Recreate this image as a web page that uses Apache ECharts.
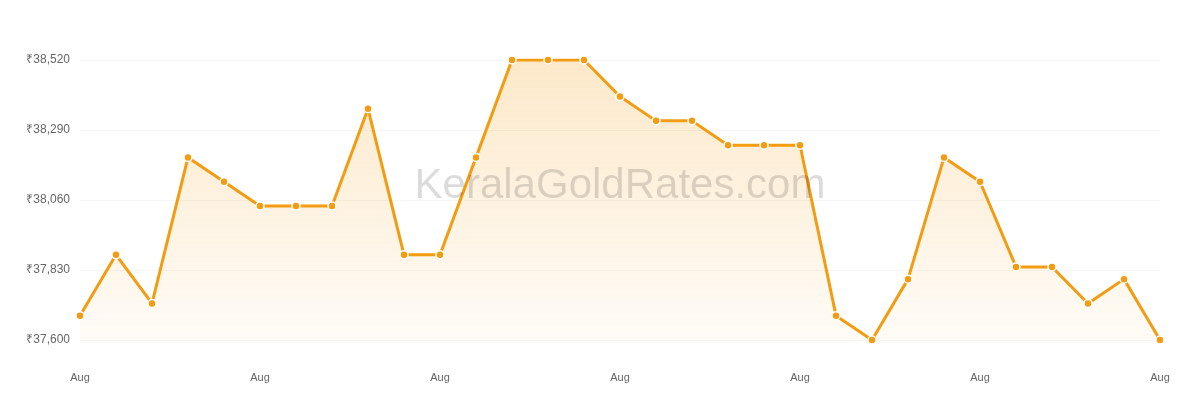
<!DOCTYPE html>
<html>
<head>
<meta charset="utf-8">
<script src="https://cdn.jsdelivr.net/npm/echarts@6/dist/echarts.min.js"></script>
<style>html,body{margin:0;padding:0;background:#fff}#c{width:1200px;height:400px}</style>
</head>
<body>
<div id="c"></div>
<script>
const days = ["Aug 01","Aug 02","Aug 03","Aug 04","Aug 05","Aug 06","Aug 07","Aug 08","Aug 09","Aug 10","Aug 11","Aug 12","Aug 13","Aug 14","Aug 15","Aug 16","Aug 17","Aug 18","Aug 19","Aug 20","Aug 21","Aug 22","Aug 23","Aug 24","Aug 25","Aug 26","Aug 27","Aug 28","Aug 29","Aug 30","Aug 31"];
const prices = [37680,37880,37720,38200,38120,38040,38040,38040,38360,37880,37880,38200,38520,38520,38520,38400,38320,38320,38240,38240,38240,37680,37600,37800,38200,38120,37840,37840,37720,37800,37600];
const yMin = 37600, yMax = 38520, yStep = 230;

const chart = echarts.init(document.getElementById('c'), null, {renderer:'canvas'});
chart.setOption({
  animation: false,
  grid: {left: 80, right: 40, top: 60, bottom: 60},
  xAxis: {
    type: 'category', data: days, boundaryGap: false,
    axisLine: {show: false}, axisTick: {show: false},
    axisLabel: {interval: 4, color: '#666', fontSize: 11, margin: 32, fontFamily: 'Liberation Sans, Arial, sans-serif',
      formatter: v => v.split(' ')[0]},
    splitLine: {show: false}
  },
  yAxis: {
    type: 'value', min: yMin, max: yMax, interval: yStep,
    axisLine: {show: false}, axisTick: {show: false},
    axisLabel: {color: '#666', fontSize: 12, margin: 10, fontFamily: 'Liberation Sans, Arial, sans-serif',
      formatter: v => '₹' + v.toLocaleString('en-US')},
    splitLine: {lineStyle: {color: '#f5f5f5', width: 1}}
  },
  series: [{
    type: 'line', data: prices,
    symbol: 'circle', symbolSize: 8,
    itemStyle: {color: '#f39c12', borderColor: '#fff', borderWidth: 1.5},
    lineStyle: {color: '#f39c12', width: 3},
    areaStyle: {color: new echarts.graphic.LinearGradient(0,0,0,1,[
      {offset: 0, color: 'rgba(243,156,18,0.32)'},
      {offset: 1, color: 'rgba(243,156,18,0.05)'}
    ])},
    z: 2
  }],
  graphic: [{
    type: 'text', x: 620, y: 186, z: 100, silent: true,
    style: {text: 'KeralaGoldRates.com', fontSize: 42, fontFamily: 'Liberation Sans, Arial, sans-serif',
      fill: 'rgba(0,0,0,0.14)', align: 'center', verticalAlign: 'middle'}
  }]
});
</script>
</body>
</html>
